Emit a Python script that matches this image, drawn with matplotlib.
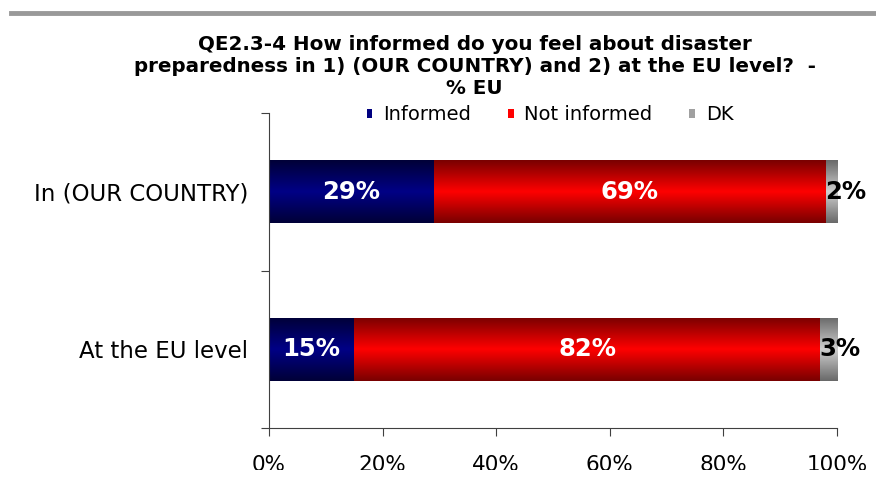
import numpy as np
import matplotlib
matplotlib.use('Agg')
from matplotlib import pyplot as plt
from matplotlib.colors import LinearSegmentedColormap
from matplotlib.patches import Patch, Rectangle
from matplotlib.lines import Line2D

# Data
categories = ['In (OUR COUNTRY)', 'At the EU level']
series = ['Informed', 'Not informed', 'DK']
informed = [29, 15]
not_informed = [69, 82]
dk = [2, 3]
xticks = [0, 20, 40, 60, 80, 100]

values = [informed, not_informed, dk]
# (edge colour, middle colour) for the shaded bars
shades = [('#000038', '#000086'), ('#7a0000', '#ff0000'), ('#6a6a6a', '#cfcfcf')]
flat = ['#000080', '#ff0000', '#a0a0a0']

fig = plt.figure(figsize=(8.76, 4.83), dpi=100)
ax = fig.add_axes([269 / 876, 1 - 428 / 483, (837 - 269) / 876, (428 - 113) / 483])

y = np.arange(len(categories))
left = np.zeros(len(categories))
for vals, (dark, bright) in zip(values, shades):
    bars = ax.barh(y, vals, left=left, height=0.4, color=bright, linewidth=0)
    cmap = LinearSegmentedColormap.from_list('g', [dark, bright, dark])
    grad = np.linspace(0, 1, 64).reshape(-1, 1)
    for b in bars:
        bb = b.get_bbox()
        im = ax.imshow(grad, cmap=cmap, aspect='auto',
                       extent=[bb.x0, bb.x1, bb.y1, bb.y0], zorder=2)
        im.set_clip_path(b)
    left = left + np.array(vals)

# value labels
for i in range(len(categories)):
    ax.text(informed[i] / 2, y[i], f'{informed[i]}%', color='white',
            fontsize=17.5, fontweight='bold', ha='center', va='center', zorder=5)
    ax.text(informed[i] + not_informed[i] / 2, y[i], f'{not_informed[i]}%',
            color='white', fontsize=17.5, fontweight='bold', ha='center',
            va='center', zorder=5)
    ax.text(informed[i] + not_informed[i] - 0.1, y[i], f'{dk[i]}%', color='black',
            fontsize=17.5, fontweight='bold', ha='left', va='center', zorder=5)

ax.set_xlim(0, 100)
ax.set_ylim(1.5, -0.5)
ax.set_xticks(xticks)
ax.set_xticklabels([f'{t}%' for t in xticks], fontsize=15.5)
ax.tick_params(axis='x', length=6, pad=13.5, color='#404040')
ax.set_yticks([-0.5, 0.5, 1.5])
ax.set_yticklabels([])
ax.set_yticks(y, minor=True)
ax.set_yticklabels(categories, minor=True, fontsize=16.5)
ax.tick_params(axis='y', which='minor', length=0, pad=15)
ax.tick_params(axis='y', which='major', length=6, color='#404040')
for s in ['top', 'right']:
    ax.spines[s].set_visible(False)
for s in ['left', 'bottom']:
    ax.spines[s].set_color('#404040')

fig.suptitle('QE2.3-4 How informed do you feel about disaster\n'
             'preparedness in 1) (OUR COUNTRY) and 2) at the EU level?  -\n'
             '% EU', x=0.542, y=1 - 35 / 483, fontsize=14.3, fontweight='bold',
             linespacing=1.2, va='top')

handles = [Patch(facecolor=c, edgecolor='none') for c in flat]
fig.legend(handles, series, loc='center', bbox_to_anchor=(550 / 876, 1 - 115 / 483),
           ncol=3, frameon=False, fontsize=14, handlelength=0.3,
           handleheight=0.3, handletextpad=0.55, columnspacing=1.9)

# grey rule at the top and the cut at the bottom
fig.add_artist(Line2D([11 / 876, 1], [1 - 13 / 483] * 2, color='#999999', lw=3.5))
fig.add_artist(Rectangle((0, 0), 1, 13 / 483, facecolor='white',
                         edgecolor='none', zorder=10, transform=fig.transFigure))

fig.savefig('out.png', dpi=100)
